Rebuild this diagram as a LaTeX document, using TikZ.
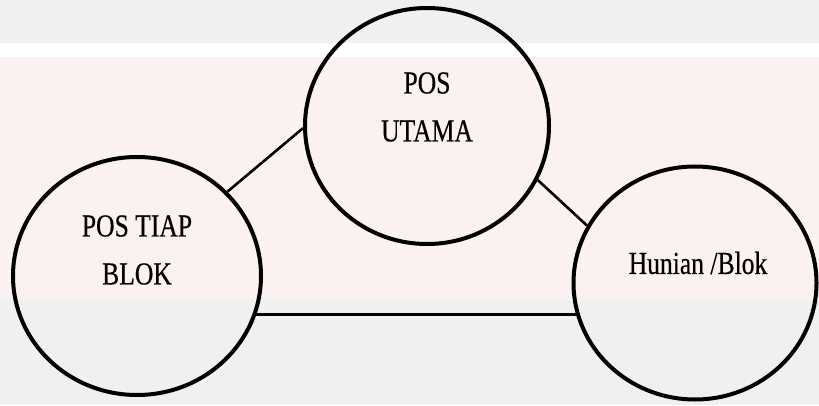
\documentclass[tikz,border=0pt]{standalone}
\usepackage{fontspec}
\setmainfont{Liberation Serif}
\newfontfamily\narrowserif[FakeStretch=0.8, FakeBold=0.4]{Liberation Serif}
\usetikzlibrary{shapes.geometric}
\definecolor{wmgray}{HTML}{F0F0F3}
\definecolor{wmpink}{HTML}{FCF1F1}
\tikzset{
  circ/.style={draw=black, line width=4pt, ellipse, inner sep=0pt},
  lbl/.style={font=\narrowserif\fontsize{32}{48}\selectfont, align=center, inner sep=0pt},
  link/.style={draw=black, line width=2.6pt},
}
\begin{document}
\begin{tikzpicture}[x=1pt, y=1pt]
  \useasboundingbox (0,0) rectangle (819,405);
  % faint watermark tint
  \fill[white] (0,0) rectangle (819,405);
  \fill[wmgray] (0,362) rectangle (819,405);
  \fill[wmpink] (0,105) rectangle (819,348);
  \fill[wmgray] (0,0) rectangle (819,105);
  % ellipses
  \node[circ, minimum width=244pt, minimum height=236pt] (T) at (427,279) {};
  \node[circ, minimum width=248pt, minimum height=238pt] (L) at (137,129) {};
  \node[circ, minimum width=243pt, minimum height=233pt] (R) at (695,122) {};
  % labels
  \node[lbl] (tT) at (427,298) {POS\\UTAMA};
  \node[lbl] (tL) at (137,155) {POS TIAP\\BLOK};
  \node[lbl] (tR) at (698,142) {Hunian /Blok};
  % connectors
  \draw[link] (L.43.7) -- (T.181.8);
  \draw[link] (T.-26) -- (R.152.8);
  \draw[link, line width=3.2pt] (L.-18.9) -- (L.-18.9 -| R.195.8);
\end{tikzpicture}
\end{document}
